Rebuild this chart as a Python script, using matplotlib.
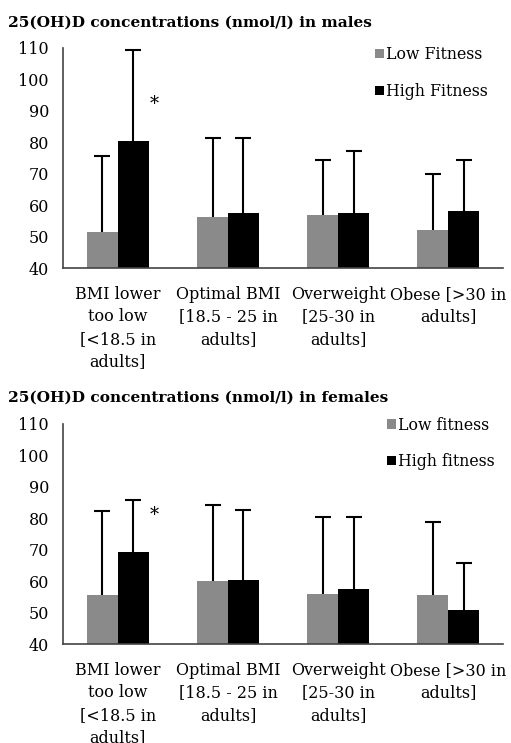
import numpy as np
import matplotlib.pyplot as plt

# BMI categories (x tick labels)
categories = [
    "BMI lower\ntoo low\n[<18.5 in\nadults]",
    "Optimal BMI\n[18.5 - 25 in\nadults]",
    "Overweight\n[25-30 in\nadults]",
    "Obese [>30 in\nadults]",
]

# males
male_low = [51.5, 56.1, 56.9, 52.1]
male_high = [80.3, 57.6, 57.6, 58.2]
male_low_err = [24.0, 25.1, 17.3, 17.8]
male_high_err = [29.0, 23.8, 19.6, 16.0]

# females
female_low = [55.5, 60.2, 56.0, 55.7]
female_high = [69.1, 60.5, 57.5, 50.7]
female_low_err = [26.7, 24.1, 24.4, 22.9]
female_high_err = [16.6, 22.0, 22.9, 15.0]

yticks = [40, 50, 60, 70, 80, 90, 100, 110]

low_color = "#8a8a8a"
high_color = "#000000"
serif = "DejaVu Serif"

fig = plt.figure(figsize=(5.11, 7.43), dpi=100)


def draw_panel(rect, low, high, low_err, high_err, title, labels, star_y, leg_xy):
    ax = fig.add_axes(rect)
    x = np.arange(len(categories))
    w = 0.28
    ax.bar(x - w / 2, low, w, color=low_color, label=labels[0], zorder=2)
    ax.bar(x + w / 2, high, w, color=high_color, label=labels[1], zorder=2)
    # only upper error bars, no cap at the bar top
    for xs, vals, errs in [(x - w / 2, low, low_err), (x + w / 2, high, high_err)]:
        _, caps, _ = ax.errorbar(xs, vals, yerr=[np.zeros(4), errs], fmt="none",
                                 ecolor="black", elinewidth=1.5, capsize=6,
                                 capthick=1.5, zorder=3)
        caps[0].set_visible(False)
    ax.set_xlim(-0.5, 3.5)
    ax.set_ylim(40, 110)
    ax.set_yticks(yticks)
    ax.set_xticks(x)
    ax.set_xticklabels(categories, family=serif, fontsize=11.5, linespacing=1.4)
    for lbl in ax.get_yticklabels():
        lbl.set_family(serif)
        lbl.set_fontsize(11.5)
    ax.tick_params(length=0, pad=10)
    ax.tick_params(axis="x", pad=13)
    ax.spines["top"].set_visible(False)
    ax.spines["right"].set_visible(False)
    for side in ["left", "bottom"]:
        ax.spines[side].set_color("#444444")
        ax.spines[side].set_linewidth(1.2)
    ax.text(w / 2 + 0.19, star_y, "*", ha="center", va="center",
            family=serif, fontsize=13)
    ax.text(-0.125, 1.115, title, transform=ax.transAxes, family=serif,
            fontweight="bold", fontsize=11.1, ha="left", va="center")
    ax.legend(loc="upper right", bbox_to_anchor=leg_xy, frameon=False,
              prop={"family": serif, "size": 11.3}, handlelength=0.55,
              handleheight=0.55, handletextpad=0.15, labelspacing=1.25)
    return ax


draw_panel([0.123, 0.639, 0.862, 0.297], male_low, male_high, male_low_err,
           male_high_err, "25(OH)D concentrations (nmol/l) in males",
           ["Low Fitness", "High Fitness"], 92.0, (0.997, 1.07))
draw_panel([0.123, 0.133, 0.862, 0.297], female_low, female_high, female_low_err,
           female_high_err, "25(OH)D concentrations (nmol/l) in females",
           ["Low fitness", "High fitness"], 81.0, (1.013, 1.095))

plt.savefig("out.png", dpi=100)
